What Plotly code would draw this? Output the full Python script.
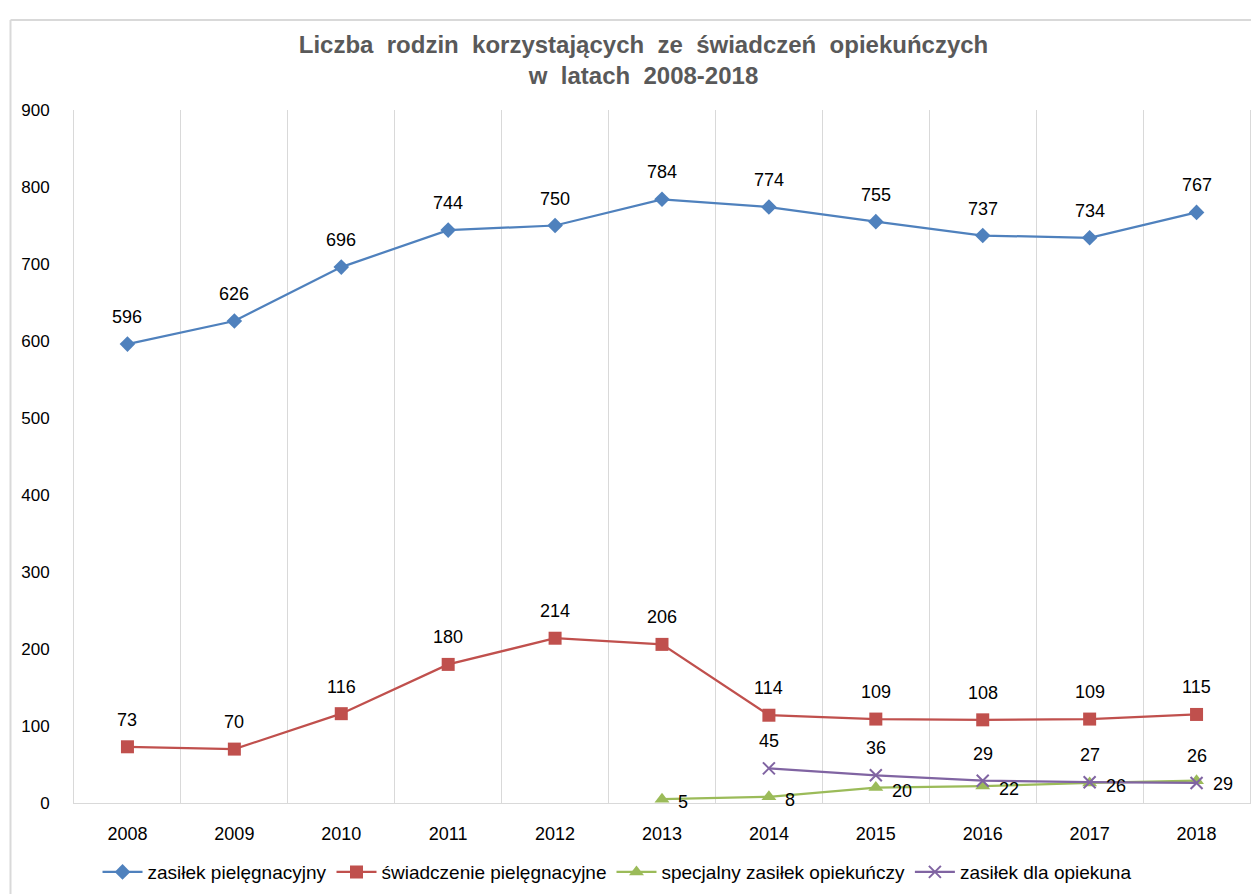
import plotly.graph_objects as go

years = ["2008", "2009", "2010", "2011", "2012", "2013", "2014", "2015", "2016", "2017", "2018"]
zasilek_piel = [596, 626, 696, 744, 750, 784, 774, 755, 737, 734, 767]
swiadczenie_piel = [73, 70, 116, 180, 214, 206, 114, 109, 108, 109, 115]
specjalny_years = ["2013", "2014", "2015", "2016", "2017", "2018"]
specjalny = [5, 8, 20, 22, 26, 29]
opiekun_years = ["2014", "2015", "2016", "2017", "2018"]
opiekun = [45, 36, 29, 27, 26]
y_ticks = [0, 100, 200, 300, 400, 500, 600, 700, 800, 900]

idx = {y: i for i, y in enumerate(years)}
lab_font = dict(family="Liberation Sans, Arial", size=18, color="#000000")

series = [
    ("zasiłek pielęgnacyjny", years, zasilek_piel, "#4F81BD", "diamond", 12, "above"),
    ("świadczenie pielęgnacyjne", years, swiadczenie_piel, "#C0504D", "square", 13, "above"),
    ("specjalny zasiłek opiekuńczy", specjalny_years, specjalny, "#9BBB59", "triangle-up", 13, "right"),
    ("zasiłek dla opiekuna", opiekun_years, opiekun, "#8064A2", "x-thin", 12, "above"),
]

fig = go.Figure()
annotations = []
for name, xs, ys, color, sym, size, pos in series:
    xi = [idx[y] for y in xs]
    mk = dict(symbol=sym, size=size, color=color)
    if sym == "x-thin":
        mk["line"] = dict(color=color, width=2)
    fig.add_trace(go.Scatter(
        x=xi, y=ys, name=name, mode="lines+markers",
        line=dict(color=color, width=2.25), marker=mk))
    for x, v in zip(xi, ys):
        if pos == "above":
            annotations.append(dict(x=x, y=v, text=str(v), showarrow=False, xref="x", yref="y",
                                    yshift=27, font=lab_font))
        else:
            annotations.append(dict(x=x, y=v, text=str(v), showarrow=False, xref="x", yref="y",
                                    xanchor="left", xshift=14, yshift=-3, font=lab_font))

fig.update_layout(
    width=1251, height=886,
    paper_bgcolor="white", plot_bgcolor="white",
    margin=dict(l=65.5, r=8.5, t=102, b=91),
    title=dict(
        text="<b>Liczba  rodzin  korzystających  ze  świadczeń  opiekuńczych<br>w  latach  2008-2018</b>",
        x=0.508, xanchor="center", y=0.949, yanchor="top",
        font=dict(family="Liberation Sans, Arial", size=24, color="#595959")),
    font=dict(family="Liberation Sans, Arial", size=16, color="#000000"),
    showlegend=True,
    legend=dict(orientation="h", x=0.02, xanchor="left", yref="container", y=0.0248, yanchor="middle",
                font=dict(family="Liberation Sans, Arial", size=19, color="#000000"),
                itemwidth=40, traceorder="normal"),
    xaxis=dict(
        range=[-0.5, 10.5], tickmode="array", tickvals=list(range(len(years))), ticktext=years,
        showgrid=False, zeroline=False, showline=True, linecolor="#D9D9D9", linewidth=1,
        ticks="", tickfont=dict(size=18), ticklabelstandoff=14, automargin=False,
        minor=dict(tickmode="linear", tick0=0.5, dtick=1, showgrid=True, gridcolor="#D9D9D9", gridwidth=1),
    ),
    yaxis=dict(
        range=[0, 900], tickmode="array", tickvals=y_ticks, showgrid=False, zeroline=False,
        showline=True, mirror=True, linecolor="#D9D9D9", linewidth=1,
        ticks="", tickfont=dict(size=17), ticklabelstandoff=20, automargin=False,
    ),
    annotations=annotations,
    shapes=[
        dict(type="line", xref="paper", yref="paper", x0=-0.054, x1=-0.054, y0=-0.2, y1=1.13,
             line=dict(color="#D9D9D9", width=2)),
        dict(type="line", xref="paper", yref="paper", x0=-0.054, x1=1.02, y0=1.13, y1=1.13,
             line=dict(color="#D9D9D9", width=2)),
    ],
)

fig.write_html("out.html")
